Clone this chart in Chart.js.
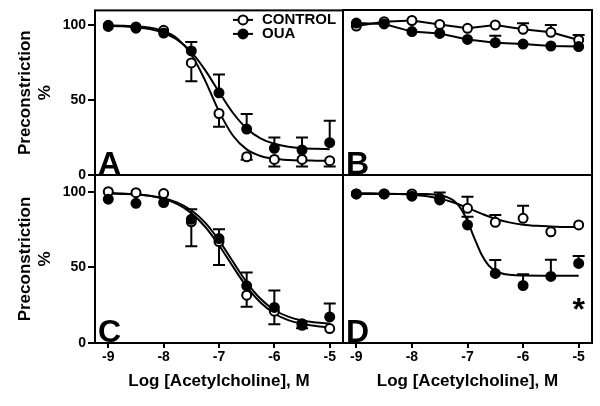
<!doctype html>
<html lang="en">
<head>
<meta charset="utf-8">
<title>Preconstriction vs acetylcholine</title>
<style>
  * { margin: 0; padding: 0; }
  body { background: #fff; width: 600px; height: 406px; position: relative; overflow: hidden; }
  canvas { position: absolute; left: 0; top: 0; }
</style>
</head>
<body>
<canvas id="panelA" width="600" height="406"></canvas>
<canvas id="panelB" width="600" height="406"></canvas>
<canvas id="panelC" width="600" height="406"></canvas>
<canvas id="panelD" width="600" height="406"></canvas>
<script src="https://cdn.jsdelivr.net/npm/chart.js"></script>
<script>
// ---- data ----
const doses = [-9, -8.5, -8, -7.5, -7, -6.5, -6, -5.5, -5];
const xTicks = [-9, -8, -7, -6, -5];
const yTicks = [0, 50, 100];
const seriesNames = ['CONTROL', 'OUA'];

// panel A
const aControl = [100, 98.9, 96.7, 74.9, 41.1, 12.2, 10.4, 10.4, 9.6];
const aControlSem = [0, 0, 0, 12.2, 8.9, 2, 4.8, 4.8, 4];
const aOua = [99.3, 98.1, 94.9, 82.9, 54.9, 30.7, 17.8, 16.7, 21.6];
const aOuaSem = [0, 0, 0, 6, 12.2, 10, 7.3, 8.4, 14.6];
// panel B
const bControl = [99.3, 102.2, 103, 100.4, 97.8, 100, 97.1, 95.1, 90];
const bControlSem = [0, 0, 0, 0, 0, 0, 4, 4.9, 3.3];
const bOua = [101.3, 100.7, 95.6, 94.4, 90.4, 88.2, 87.3, 86, 85.6];
const bOuaSem = [0, 0, 0, 0, 0, 4.7, 0, 0, 0];
// panel C
const cControl = [100, 99.3, 98.7, 80.1, 67, 31.6, 21, 11.7, 9.5];
const cControlSem = [0, 0, 0, 16.1, 15.5, 7.7, 8.6, 2, 0];
const cOua = [95, 92.3, 92.8, 81.7, 69, 37.8, 23.5, 12.8, 17.2];
const cOuaSem = [0, 0, 0, 6.6, 6.1, 8.8, 11.2, 0, 8.9];
// panel D
const dControl = [98.5, 98.5, 98.5, 95.6, 89, 79.7, 82.4, 73.5, 78];
const dControlSem = [0, 0, 0, 0, 7.7, 4.9, 8.3, 0, 0];
const dOua = [98.5, 98.5, 97, 94.5, 78, 46, 38, 44, 52.6];
const dOuaSem = [0, 0, 0, 5, 5.4, 8.8, 7.5, 11, 4.8];

// fitted curves
const fitX = [-9, -8.75, -8.5, -8.25, -8, -7.75, -7.5, -7.25, -7, -6.75, -6.5, -6.25, -6, -5.75, -5.5, -5.25, -5];
const aControlFit = [100, 99.8, 99.4, 98.5, 96.2, 91.0, 80.5, 63.1, 42.5, 26.4, 17.1, 12.7, 10.8, 10.0, 9.7, 9.6, 9.5];
const aOuaFit = [99.7, 99.4, 98.7, 97.5, 94.9, 90.3, 82.1, 70.1, 55.5, 41.6, 31.1, 24.5, 20.9, 18.9, 17.9, 17.5, 17.2];
const cControlFit = [99.1, 98.8, 98.2, 97.2, 95.2, 91.7, 85.8, 76.8, 64.6, 50.6, 37.2, 26.7, 19.5, 15.1, 12.7, 11.2, 10.4];
const cOuaFit = [98.8, 98.5, 98.1, 97.3, 95.7, 92.8, 87.7, 79.5, 67.8, 53.8, 40.1, 29.2, 21.8, 17.4, 14.9, 13.5, 12.8];
const dControlFit = [98.9, 98.9, 98.7, 98.5, 98.0, 97.1, 95.4, 92.8, 89.3, 85.5, 82.1, 79.7, 78.2, 77.4, 77.0, 76.7, 76.6];
const dOuaFitX = [-9, -8.5, -8, -7.75, -7.5, -7.375, -7.25, -7.125, -7, -6.875, -6.75, -6.625, -6.5, -6.375, -6.25, -6, -5.5, -5];
const dOuaFit = [98.5, 98.5, 98.5, 98.4, 97.7, 96.5, 94.1, 89.1, 80.5, 69.2, 58.6, 51.5, 47.7, 45.9, 45.1, 44.6, 44.5, 44.5];

// significance mark in panel D
const dStar = { x: -5, y: 27 };

Chart.defaults.font.family = '"Liberation Sans", Arial, sans-serif';
Chart.defaults.color = '#000';

const W = 600, H = 406;
const FONT_TICK = { size: 14, weight: 'bold' };
const FONT_TITLE = { size: 17, weight: 'bold' };

// error bars, frame, letter, legend, star
const panelDecor = {
  id: 'panelDecor',
  beforeDatasetsDraw(chart) {
    const { ctx, scales: { x, y } } = chart;
    ctx.save();
    ctx.strokeStyle = '#000';
    ctx.lineWidth = 2;
    chart.data.datasets.forEach(ds => {
      if (!ds.sem) return;
      ds.data.forEach((p, i) => {
        const e = ds.sem[i];
        if (!e) return;
        const px = x.getPixelForValue(p.x);
        const y0 = y.getPixelForValue(p.y);
        const y1 = y.getPixelForValue(p.y + ds.semDir * e);
        ctx.beginPath();
        ctx.moveTo(px, y0);
        ctx.lineTo(px, y1);
        ctx.moveTo(px - 6, y1);
        ctx.lineTo(px + 6, y1);
        ctx.stroke();
      });
    });
    ctx.restore();
  },
  afterDraw(chart, args, opts) {
    const { ctx, chartArea: a, scales: { x, y } } = chart;
    ctx.save();
    ctx.strokeStyle = '#000';
    ctx.lineWidth = 2;
    ctx.strokeRect(a.left, a.top, a.right - a.left, a.bottom - a.top);

    ctx.fillStyle = '#000';
    ctx.font = 'bold 32px "Liberation Sans", Arial, sans-serif';
    ctx.textAlign = 'left';
    ctx.textBaseline = 'alphabetic';
    ctx.fillText(opts.letter, a.left + 3, a.bottom - 1);

    if (opts.star) {
      ctx.textAlign = 'center';
      ctx.fillText('*', x.getPixelForValue(opts.star.x), y.getPixelForValue(opts.star.y) + 18);
    }

    if (opts.legend) {
      const x0 = a.right - 110;
      ctx.font = 'bold 15px "Liberation Sans", Arial, sans-serif';
      ctx.textBaseline = 'middle';
      ctx.textAlign = 'left';
      seriesNames.forEach((name, i) => {
        const yy = a.top + 9.5 + i * 14;
        ctx.beginPath();
        ctx.moveTo(x0, yy);
        ctx.lineTo(x0 + 20, yy);
        ctx.stroke();
        ctx.beginPath();
        ctx.arc(x0 + 10, yy, 4.5, 0, Math.PI * 2);
        ctx.fillStyle = i === 0 ? '#fff' : '#000';
        ctx.fill();
        ctx.stroke();
        ctx.fillStyle = '#000';
        ctx.fillText(name, x0 + 29, yy);
      });
    }
    ctx.restore();
  }
};

function pointSet(label, values, sem, dir, open, joined) {
  return {
    label,
    data: doses.map((d, i) => ({ x: d, y: values[i] })),
    sem, semDir: dir,
    showLine: joined,
    borderColor: '#000',
    borderWidth: 2,
    pointRadius: 4.5,
    pointBorderWidth: 2,
    pointBorderColor: '#000',
    pointBackgroundColor: open ? '#fff' : '#000'
  };
}

function fitSet(xs, values) {
  return {
    data: xs.map((d, i) => ({ x: d, y: values[i] })),
    showLine: true,
    pointRadius: 0,
    borderColor: '#000',
    borderWidth: 2,
    cubicInterpolationMode: 'monotone'
  };
}

function makePanel(id, p) {
  const yAxisW = p.yLabels ? 80 : 0;
  const xAxisH = p.xLabels ? 53 : 0;
  new Chart(document.getElementById(id), {
    type: 'line',
    data: { datasets: p.datasets },
    options: {
      responsive: false,
      animation: false,
      events: [],
      layout: {
        padding: {
          left: p.area.l - yAxisW,
          top: p.area.t,
          right: W - p.area.r,
          bottom: H - p.area.b - xAxisH
        }
      },
      scales: {
        x: {
          type: 'linear',
          min: -9.24,
          max: -4.76,
          display: p.xLabels,
          afterFit: s => { s.height = xAxisH; },
          afterBuildTicks: s => { s.ticks = xTicks.map(v => ({ value: v })); },
          border: { display: false },
          grid: { drawOnChartArea: false, drawTicks: true, tickLength: 5, lineWidth: 2, tickColor: '#000' },
          ticks: { font: FONT_TICK, color: '#000', padding: 1, autoSkip: false, maxRotation: 0 },
          title: { display: true, text: 'Log [Acetylcholine], M', font: FONT_TITLE, color: '#000', padding: { top: 0, bottom: 4 } }
        },
        y: {
          min: 0,
          max: p.yMax,
          display: p.yLabels,
          afterFit: s => { s.width = yAxisW; },
          afterBuildTicks: s => { s.ticks = yTicks.map(v => ({ value: v })); },
          border: { display: false },
          grid: { drawOnChartArea: false, drawTicks: true, tickLength: 7, lineWidth: 2, tickColor: '#000' },
          ticks: { font: FONT_TICK, color: '#000', padding: 2 },
          title: { display: true, text: ['Preconstriction', '%'], font: FONT_TITLE, color: '#000', padding: { top: 0, bottom: 0 } }
        }
      },
      plugins: {
        legend: { display: false },
        tooltip: { enabled: false },
        panelDecor: { letter: p.letter, legend: p.legend, star: p.star }
      }
    },
    plugins: [panelDecor]
  });
}

makePanel('panelA', {
  letter: 'A', area: { l: 95, t: 10, r: 343, b: 175 }, yMax: 110,
  yLabels: true, xLabels: false, legend: true,
  datasets: [
    pointSet('OUA', aOua, aOuaSem, 1, false, false),
    pointSet('CONTROL', aControl, aControlSem, -1, true, false),
    fitSet(fitX, aControlFit),
    fitSet(fitX, aOuaFit)
  ]
});

makePanel('panelB', {
  letter: 'B', area: { l: 343, t: 10, r: 592, b: 175 }, yMax: 110,
  yLabels: false, xLabels: false,
  datasets: [
    pointSet('OUA', bOua, bOuaSem, 1, false, true),
    pointSet('CONTROL', bControl, bControlSem, 1, true, true)
  ]
});

makePanel('panelC', {
  letter: 'C', area: { l: 95, t: 175, r: 343, b: 343 }, yMax: 111,
  yLabels: true, xLabels: true,
  datasets: [
    pointSet('OUA', cOua, cOuaSem, 1, false, false),
    pointSet('CONTROL', cControl, cControlSem, -1, true, false),
    fitSet(fitX, cControlFit),
    fitSet(fitX, cOuaFit)
  ]
});

makePanel('panelD', {
  letter: 'D', area: { l: 343, t: 175, r: 592, b: 343 }, yMax: 111,
  yLabels: false, xLabels: true, star: dStar,
  datasets: [
    pointSet('OUA', dOua, dOuaSem, 1, false, false),
    pointSet('CONTROL', dControl, dControlSem, 1, true, false),
    fitSet(fitX, dControlFit),
    fitSet(dOuaFitX, dOuaFit)
  ]
});
</script>
</body>
</html>
